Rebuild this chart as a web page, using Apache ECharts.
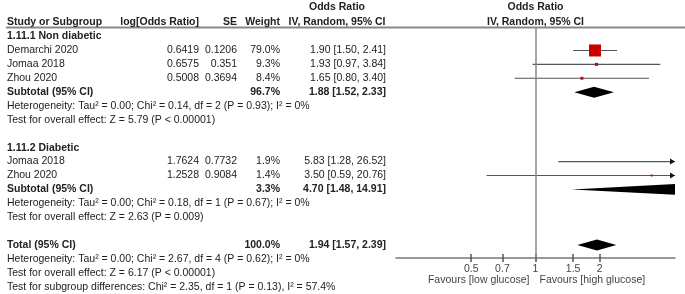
<!DOCTYPE html>
<html>
<head>
<meta charset="utf-8">
<script src="https://cdn.jsdelivr.net/npm/echarts@6/dist/echarts.min.js"></script>
<style>
  html, body { margin: 0; padding: 0; background: #fff; }
  #chart { width: 685px; height: 294px; }
</style>
</head>
<body>
<div id="chart"></div>
<script>
// study rows
var studyNames = ['Demarchi 2020', 'Jomaa 2018', 'Zhou 2020', 'Jomaa 2018', 'Zhou 2020'];
var studyLogOR = ['0.6419', '0.6575', '0.5008', '1.7624', '1.2528'];
var studySE = ['0.1206', '0.351', '0.3694', '0.7732', '0.9084'];
var studyWeight = [79.0, 9.3, 8.4, 1.9, 1.4];
var studyOR = [1.90, 1.93, 1.65, 5.83, 3.50];
var studyLow = [1.50, 0.97, 0.80, 1.28, 0.59];
var studyHigh = [2.41, 3.84, 3.40, 26.52, 20.76];
var studyRows = [1, 2, 3, 9, 10];

// pooled rows (subtotals + total)
var poolLabels = ['Subtotal (95% CI)', 'Subtotal (95% CI)', 'Total (95% CI)'];
var poolWeight = ['96.7%', '3.3%', '100.0%'];
var poolOR = [1.88, 4.70, 1.94];
var poolLow = [1.52, 1.48, 1.57];
var poolHigh = [2.33, 14.91, 2.39];
var poolRows = [4, 11, 15];

// group headers and statistics lines
var groupTitles = ['1.11.1 Non diabetic', '1.11.2 Diabetic'];
var groupRows = [0, 8];
var noteTexts = [
  'Heterogeneity: Tau\u00b2 = 0.00; Chi\u00b2 = 0.14, df = 2 (P = 0.93); I\u00b2 = 0%',
  'Test for overall effect: Z = 5.79 (P < 0.00001)',
  'Heterogeneity: Tau\u00b2 = 0.00; Chi\u00b2 = 0.18, df = 1 (P = 0.67); I\u00b2 = 0%',
  'Test for overall effect: Z = 2.63 (P = 0.009)',
  'Heterogeneity: Tau\u00b2 = 0.00; Chi\u00b2 = 2.67, df = 4 (P = 0.62); I\u00b2 = 0%',
  'Test for overall effect: Z = 6.17 (P < 0.00001)',
  'Test for subgroup differences: Chi\u00b2 = 2.35, df = 1 (P = 0.13), I\u00b2 = 57.4%'
];
var noteRows = [5, 6, 12, 13, 16, 17, 18];

// axis ticks (odds ratio, log scale)
var tickValues = [0.5, 0.7, 1, 1.5, 2];
var tickLabels = ['0.5', '0.7', '1', '1.5', '2'];
var axisRange = [1 / 4.5, 4.5];

var xMin = Math.log(axisRange[0]), xMax = Math.log(axisRange[1]);
var FONT = '"Liberation Sans", Arial, sans-serif';
var col = { study: 7, logOR: 199, se: 237, weight: 280, ci: 386, ciHead: 337 };

function ciText(e, l, h) {
  return e.toFixed(2) + ' [' + l.toFixed(2) + ', ' + h.toFixed(2) + ']';
}

// table text entries
var cells = [];
function cell(row, x, text, align, bold, color) {
  cells.push({ row: row, x: x, text: text, align: align || 'left', bold: !!bold, color: color || '#222' });
}
cell(-2.13, col.ciHead, 'Odds Ratio', 'center', true);
cell(-2.13, 'null', 'Odds Ratio', 'center', true);
cell(-1.05, col.study, 'Study or Subgroup', 'left', true);
cell(-1.05, col.logOR, 'log[Odds Ratio]', 'right', true);
cell(-1.05, col.se, 'SE', 'right', true);
cell(-1.05, col.weight, 'Weight', 'right', true);
cell(-1.05, col.ciHead, 'IV, Random, 95% CI', 'center', true);
cell(-1.05, 'null', 'IV, Random, 95% CI', 'center', true);
groupTitles.forEach(function (t, i) { cell(groupRows[i], col.study, t, 'left', true); });
studyNames.forEach(function (n, i) {
  var r = studyRows[i];
  cell(r, col.study, n);
  cell(r, col.logOR, studyLogOR[i], 'right');
  cell(r, col.se, studySE[i], 'right');
  cell(r, col.weight, studyWeight[i].toFixed(1) + '%', 'right');
  cell(r, col.ci, ciText(studyOR[i], studyLow[i], studyHigh[i]), 'right');
});
poolLabels.forEach(function (n, i) {
  var r = poolRows[i];
  cell(r, col.study, n, 'left', true);
  cell(r, col.weight, poolWeight[i], 'right', true);
  cell(r, col.ci, ciText(poolOR[i], poolLow[i], poolHigh[i]), 'right', true);
});
noteTexts.forEach(function (t, i) { cell(noteRows[i], col.study, t); });
cell(17.52, 'nullL', 'Favours [low glucose]', 'right', false, '#444');
cell(17.52, 'nullR', 'Favours [high glucose]', 'left', false, '#444');

var chart = echarts.init(document.getElementById('chart'), null, { renderer: 'canvas' });

chart.setOption({
  animation: false,
  grid: { left: 396, right: 10, top: 27, bottom: 36 },
  xAxis: [{
    type: 'value', min: xMin, max: xMax, position: 'bottom',
    axisLine: { onZero: false, lineStyle: { color: '#777', width: 1.5 } },
    axisTick: { show: true, length: 4, customValues: tickValues.map(Math.log), lineStyle: { color: '#555', width: 1.5 } },
    axisLabel: {
      customValues: tickValues.map(Math.log), margin: 6,
      color: '#444', fontFamily: FONT, fontSize: 10.5,
      formatter: function (v) {
        for (var i = 0; i < tickValues.length; i++) {
          if (Math.abs(Math.log(tickValues[i]) - v) < 1e-6) return tickLabels[i];
        }
        return '';
      }
    },
    splitLine: { show: false }
  }, {
    type: 'value', min: xMin, max: xMax, position: 'bottom',
    axisLine: { show: false, onZero: false },
    axisTick: { show: true, inside: true, length: 4, customValues: tickValues.map(Math.log), lineStyle: { color: '#555', width: 1.5 } },
    axisLabel: { show: false },
    splitLine: { show: false }
  }],
  yAxis: { type: 'value', inverse: true, min: -0.69, max: 15.94, show: false },
  graphic: [{
    type: 'line', shape: { x1: 6, y1: 27.5, x2: 685, y2: 27.5 },
    style: { stroke: '#888', lineWidth: 2 }, silent: true
  }],
  series: [{
    // studies: CI line, arrows when truncated, weighted square
    type: 'custom', clip: true,
    data: studyRows.map(function (r, i) {
      return [Math.log(studyOR[i]), Math.log(studyLow[i]), Math.log(studyHigh[i]), r, studyWeight[i]];
    }),
    encode: { x: [0, 1, 2], y: 3 },
    renderItem: function (params, api) {
      var y = api.coord([0, api.value(3)])[1];
      var lo = api.value(1), hi = api.value(2);
      var x1 = api.coord([Math.max(lo, xMin), 0])[0];
      var x2 = api.coord([Math.min(hi, xMax), 0])[0];
      var c = api.coord([api.value(0), 0])[0];
      var w = api.value(4);
      var s = 2 + 10 * (w - 1.4) / 77.6;
      var kids = [{
        type: 'line', shape: { x1: x1, y1: y, x2: x2, y2: y },
        style: { stroke: '#555', lineWidth: 1.2 }
      }];
      if (hi > xMax) {
        kids.push({ type: 'polygon', shape: { points: [[x2, y], [x2 - 5, y - 3], [x2 - 5, y + 3]] }, style: { fill: '#111' } });
      }
      if (lo < xMin) {
        kids.push({ type: 'polygon', shape: { points: [[x1, y], [x1 + 5, y - 3], [x1 + 5, y + 3]] }, style: { fill: '#111' } });
      }
      kids.push({ type: 'rect', shape: { x: c - s / 2, y: y - s / 2, width: s, height: s }, style: { fill: '#c80000' } });
      return { type: 'group', children: kids };
    },
    markLine: {
      silent: true, symbol: 'none', label: { show: false },
      lineStyle: { color: '#888', width: 1.5, type: 'solid' },
      data: [{ xAxis: 0 }]
    }
  }, {
    // pooled diamonds
    type: 'custom', clip: true,
    data: poolRows.map(function (r, i) {
      return [Math.log(poolOR[i]), Math.log(poolLow[i]), Math.log(poolHigh[i]), r];
    }),
    encode: { x: [0, 1, 2], y: 3 },
    renderItem: function (params, api) {
      var y = api.coord([0, api.value(3)])[1];
      var c = api.coord([api.value(0), 0])[0];
      var l = api.coord([api.value(1), 0])[0];
      var h = api.coord([api.value(2), 0])[0];
      var hh = 5.5;
      return {
        type: 'polygon',
        shape: { points: [[l, y], [c, y - hh], [h, y], [c, y + hh]] },
        style: { fill: '#000' }
      };
    }
  }, {
    // table text
    type: 'custom', clip: false, silent: true,
    data: cells.map(function (c) { return [0, c.row]; }),
    encode: { x: 0, y: 1 },
    renderItem: function (params, api) {
      var e = cells[params.dataIndex];
      var y = api.coord([0, api.value(1)])[1];
      var nx = api.coord([0, 0])[0];
      var x = e.x;
      if (x === 'null') x = nx;
      else if (x === 'nullL') x = nx - 6;
      else if (x === 'nullR') x = nx + 4;
      return {
        type: 'text',
        style: {
          text: e.text, x: x, y: y,
          align: e.align, verticalAlign: 'middle',
          font: (e.bold ? 'bold ' : '') + '10.5px ' + FONT,
          fill: e.color
        }
      };
    }
  }]
});
</script>
</body>
</html>
